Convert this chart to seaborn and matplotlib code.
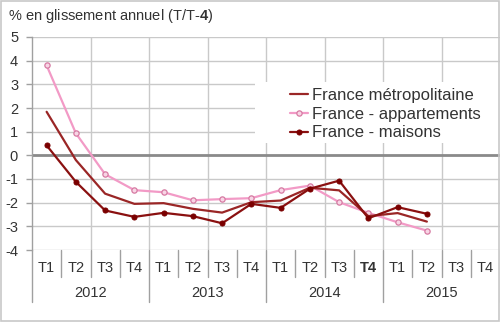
import matplotlib
matplotlib.use("Agg")
import matplotlib.pyplot as plt
from matplotlib.patches import Rectangle
import pandas as pd
import seaborn as sns

# Quarterly year-on-year change in housing prices (%)
years = ["2012", "2013", "2014", "2015"]
quarters = ["T1", "T2", "T3", "T4"]
metro = [1.84, -0.20, -1.62, -2.05, -2.02, -2.26, -2.42, -1.98,
         -1.91, -1.37, -1.48, -2.57, -2.44, -2.80]
appart = [3.80, 0.93, -0.80, -1.47, -1.56, -1.90, -1.85, -1.81,
          -1.47, -1.28, -1.98, -2.43, -2.83, -3.18]
maisons = [0.42, -1.12, -2.33, -2.60, -2.43, -2.57, -2.87, -2.05,
           -2.22, -1.41, -1.07, -2.66, -2.19, -2.47]
series_names = ["France métropolitaine", "France - appartements", "France - maisons"]
y_ticks = [-4, -3, -2, -1, 0, 1, 2, 3, 4, 5]

sns.set_style("white")
plt.rcParams["font.family"] = ["Liberation Sans", "DejaVu Sans"]
plt.rcParams["mathtext.fontset"] = "custom"
plt.rcParams["mathtext.rm"] = "Liberation Sans"
plt.rcParams["mathtext.bf"] = "Liberation Sans:bold"

W, H = 500, 323
FS = 10.5
fig = plt.figure(figsize=(W / 100, H / 100), dpi=100)
fig.patch.set_facecolor("white")
ax = fig.add_axes([32 / W, 73 / H, 468 / W, 213 / H])

n_cat = len(years) * len(quarters)
df = pd.DataFrame({
    "pos": list(range(len(metro))) * 3,
    "value": metro + appart + maisons,
    "serie": [series_names[0]] * len(metro)
    + [series_names[1]] * len(appart)
    + [series_names[2]] * len(maisons),
})

text_col = "#333333"

# grid
for v in y_ticks:
    if v != 0:
        ax.axhline(v, color="#c9c9c9", lw=1.0, zorder=0)
for k in range(2, n_cat, 2):
    ax.axvline(-0.5 + k, color="#c9c9c9", lw=1.0, zorder=0)
ax.axhline(0, color="#8a8a8a", lw=2.0, zorder=1)

# white panel behind the legend, above the grid
ax.add_patch(Rectangle((255 / W, 1 - 143 / H), 245 / W, 61 / H,
                       transform=fig.transFigure, facecolor="white",
                       edgecolor="none", zorder=1.5, clip_on=False))

styles = {
    series_names[0]: dict(color="#9a2626", marker=None),
    series_names[1]: dict(color="#f29ac6", marker="o", markersize=3.8,
                          markerfacecolor="#f8d5e5", markeredgecolor="#d67aa2",
                          markeredgewidth=0.9),
    series_names[2]: dict(color="#8a1010", marker="o", markersize=3.6,
                          markerfacecolor="#7a0000", markeredgecolor="#7a0000"),
}
draw_order = [series_names[1], series_names[0], series_names[2]]
for name in draw_order:
    sub = df[df["serie"] == name]
    sns.lineplot(data=sub, x="pos", y="value", ax=ax, lw=1.6, label=name,
                 zorder=3, **styles[name])

ax.set_xlim(-0.5, n_cat - 0.5)
ax.set_ylim(-4, 5)
ax.set_yticks(y_ticks)
ax.set_yticklabels([str(v) for v in y_ticks])
ax.set_xticks([])
ax.set_xlabel("")
ax.set_ylabel("")
for s in ["top", "right", "bottom"]:
    ax.spines[s].set_visible(False)
ax.spines["left"].set_color("#a0a0a0")
ax.spines["left"].set_linewidth(1.0)
ax.tick_params(axis="y", length=4, width=1, color="#a0a0a0", pad=6,
               labelsize=FS, labelcolor=text_col, left=True)

# category axis below the plot
tr = ax.get_xaxis_transform()
ph = 213.0
for k in range(n_cat + 1):
    depth = 52 if k % 4 == 0 else 27
    ax.plot([-0.5 + k, -0.5 + k], [0, -depth / ph], transform=tr,
            color="#a0a0a0", lw=1.0, clip_on=False)
for i in range(n_cat):
    lab = quarters[i % 4]
    bold = (years[i // 4] == "2014" and lab == "T4")
    ax.text(i, -18 / ph, lab, transform=tr, ha="center", va="center",
            fontsize=FS, color=text_col,
            fontweight="bold" if bold else "normal")
for j, yr in enumerate(years):
    ax.text(j * 4 + 1.5, -43 / ph, yr, transform=tr, ha="center",
            va="center", fontsize=FS, color=text_col)

handles, labels = ax.get_legend_handles_labels()
order = [labels.index(n) for n in series_names]
leg = ax.legend([handles[i] for i in order], [labels[i] for i in order],
                loc="upper left", bbox_to_anchor=(290 / W, 1 - 88 / H),
                bbox_transform=fig.transFigure, frameon=False,
                fontsize=12, handlelength=1.1, handletextpad=0.25,
                labelspacing=0.22, borderpad=0.0, borderaxespad=0.0)
for t in leg.get_texts():
    t.set_color(text_col)
leg.set_zorder(5)

fig.text(8 / W, 1 - 16 / H, r"% en glissement annuel (T/T-$\mathbf{4}$)",
         ha="left", va="center", fontsize=FS, color=text_col)

fig.add_artist(Rectangle((1 / W, 2 / H), (W - 2) / W, (H - 3) / H,
                         transform=fig.transFigure, fill=False,
                         edgecolor="#c8c8c8", lw=1.2))

fig.savefig("out.png", dpi=100, facecolor="white")
